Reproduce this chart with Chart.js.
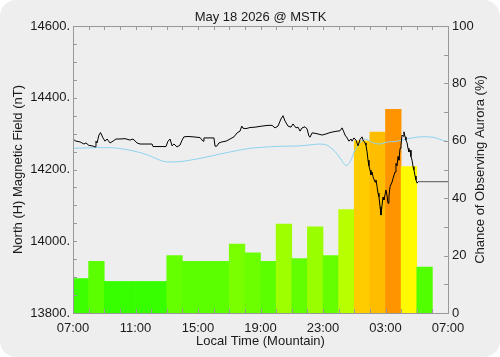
<!DOCTYPE html>
<html>
<head>
<meta charset="utf-8">
<script src="https://cdn.jsdelivr.net/npm/chart.js@4.4.1/dist/chart.umd.min.js"></script>
<style>
  html, body { margin: 0; padding: 0; background: #ffffff; }
</style>
</head>
<body>
<canvas id="chart" width="500" height="357"></canvas>
<script>
// hourly aurora chance; bar i covers the hour starting i hours after 07:00
const barHours = [0.5,1.5,2.5,3.5,4.5,5.5,6.5,7.5,8.5,9.5,10.5,11.5,
                  12.5,13.5,14.5,15.5,16.5,17.5,18.5,19.5,20.5,21.5,22.5];
const auroraPct = [12, 18, 11, 11, 11, 11, 20, 18, 18, 18, 24, 21,
                   18, 31, 19, 30, 20, 36, 60, 63, 71, 51, 16];

// bottom axis labels (every 4 h from 07:00)
const timeTicks = ['07:00', '11:00', '15:00', '19:00', '23:00', '03:00', '07:00'];

// measured H component: hours since 07:00, nT
const magHours = [0.02,0.19,0.45,0.70,0.83,1.02,1.22,1.41,1.47,1.54,1.66,1.76,1.92,2.05,2.18,2.37,2.56,2.75,3.01,3.33,
  3.65,3.84,4.10,4.29,4.61,5.06,5.12,5.57,5.95,6.08,6.21,6.34,6.46,6.66,6.85,6.98,7.10,7.36,7.68,8.13,
  8.32,8.38,8.77,9.02,9.09,9.20,9.34,9.54,9.79,10.05,10.30,10.50,10.69,10.80,10.88,11.07,11.33,11.65,12.10,12.48,
  12.74,12.93,13.12,13.31,13.44,13.57,13.76,13.95,14.08,14.27,14.40,14.53,14.66,14.85,14.98,15.10,15.17,15.30,15.49,15.68,
  15.94,16.19,16.45,16.77,17.09,17.22,17.31,17.41,17.54,17.66,17.79,17.86,17.98,18.11,18.24,18.30,18.37,18.50,18.56,18.69,
  18.75,18.82,18.88,18.94,19.01,19.07,19.14,19.20,19.33,19.39,19.46,19.52,19.58,19.65,19.71,19.78,19.84,19.90,20.03,20.10,
  20.16,20.22,20.29,20.42,20.48,20.61,20.67,20.74,20.80,20.86,20.93,20.99,21.06,21.12,21.18,21.25,21.31,21.38,21.44,21.50,
  21.57,21.63,21.70,21.76,21.82,21.89,21.95,22.02,22.08];
const magNT = [14284,14279,14277,14271,14274,14267,14266,14263,14279,14274,14296,14303,14288,14279,14285,14274,14279,14285,14285,14286,
  14282,14285,14274,14271,14271,14271,14264,14264,14264,14279,14285,14266,14271,14263,14268,14282,14291,14292,14291,14289,
  14279,14288,14288,14288,14265,14265,14274,14277,14279,14285,14291,14302,14307,14321,14315,14314,14317,14318,14321,14323,
  14323,14316,14321,14341,14350,14335,14321,14318,14327,14316,14318,14307,14316,14319,14313,14293,14290,14302,14301,14299,
  14296,14299,14303,14306,14308,14316,14307,14296,14288,14279,14285,14279,14288,14282,14266,14274,14284,14291,14282,14274,
  14268,14249,14226,14210,14198,14185,14193,14180,14165,14171,14152,14134,14124,14096,14073,14101,14123,14115,14143,14126,
  14106,14126,14152,14165,14175,14193,14217,14210,14236,14226,14259,14268,14296,14293,14305,14291,14282,14274,14259,14249,
  14254,14236,14226,14208,14199,14182,14171,14162,14166];

// last value held to the end of the day
const tailHours = [22.08, 24];
const tailNT = [14166, 14166];

// quiet-day baseline
const baseHours = [0,1.73,2.69,3.84,4.80,5.76,6.34,6.85,7.49,8.13,9.73,11.33,12.93,14.53,15.81,16.26,16.51,16.77,17.09,17.47,
  17.73,18.05,18.37,18.56,18.75,19.01,19.33,19.65,20.16,20.61,21.06,21.57,22.21,22.72,23.17,23.62,24];
const baseNT = [14259,14261,14260,14252,14240,14223,14221,14222,14226,14231,14246,14259,14264,14266,14271,14268,14260,14250,14232,14211,
  14221,14254,14274,14282,14285,14278,14273,14271,14277,14278,14282,14287,14291,14291,14289,14282,14278];

function pts(xs, ys) {
  return xs.map((h, i) => ({ x: h, y: ys[i] }));
}

// green -> yellow -> orange with rising chance
function pctColor(p) {
  return 'hsl(' + (120 - 1.2 * p) + ', 100%, 50%)';
}

const FONT = "'Liberation Sans', Arial, sans-serif";
const INK = '#1a1a1a';

const decor = {
  id: 'decor',
  beforeDraw(chart) {
    const c = chart.ctx;
    c.save();
    c.fillStyle = '#eeeeee';
    c.beginPath();
    c.roundRect(0, 0, chart.width, chart.height, 16);
    c.fill();
    c.restore();
  },
  afterDatasetsDraw(chart) {
    const c = chart.ctx, a = chart.chartArea;
    const x = chart.scales.x, y = chart.scales.y, y1 = chart.scales.y1;
    c.save();
    c.strokeStyle = '#999999';
    c.lineWidth = 1;
    c.strokeRect(a.left + 0.5, a.top + 0.5, a.right - a.left, a.bottom - a.top);
    c.beginPath();
    for (let v = 13800; v <= 14600; v += 50) {
      const py = Math.round(y.getPixelForValue(v)) + 0.5;
      c.moveTo(a.left, py); c.lineTo(a.left + 4, py);
    }
    for (let p = 0; p <= 100; p += 10) {
      const py = Math.round(y1.getPixelForValue(p)) + 0.5;
      c.moveTo(a.right, py); c.lineTo(a.right - 4, py);
    }
    for (let h = 0; h <= 24; h++) {
      const px = Math.round(x.getPixelForValue(h)) + 0.5;
      c.moveTo(px, a.bottom); c.lineTo(px, a.bottom - 4);
      c.moveTo(px, a.top); c.lineTo(px, a.top + 4);
    }
    c.stroke();

    c.fillStyle = INK;
    c.font = '13px ' + FONT;
    c.textAlign = 'center';
    c.textBaseline = 'middle';
    const cx = (a.left + a.right) / 2, cy = (a.top + a.bottom) / 2;
    c.fillText('May 18 2026 @ MSTK', cx, 17);
    c.fillText('Local Time (Mountain)', cx, 341);
    c.translate(18, cy);
    c.rotate(-Math.PI / 2);
    c.fillText('North (H) Magnetic Field (nT)', 0, 0);
    c.rotate(Math.PI / 2);
    c.translate(480 - 18, 0);
    c.rotate(-Math.PI / 2);
    c.fillText('Chance of Observing Aurora (%)', 0, 0);
    c.restore();
  }
};

new Chart(document.getElementById('chart'), {
  type: 'bar',
  data: {
    datasets: [
      {
        type: 'line',
        data: pts(magHours, magNT),
        yAxisID: 'y',
        borderColor: '#000000', borderWidth: 1,
        pointRadius: 0, tension: 0, order: 0
      },
      {
        type: 'line',
        data: pts(tailHours, tailNT),
        yAxisID: 'y',
        borderColor: '#555555', borderWidth: 1,
        pointRadius: 0, order: 0
      },
      {
        type: 'line',
        data: pts(baseHours, baseNT),
        yAxisID: 'y',
        borderColor: '#8fd3ee', borderWidth: 1,
        pointRadius: 0, tension: 0.3, order: 1
      },
      {
        type: 'bar',
        data: pts(barHours, auroraPct),
        yAxisID: 'y1',
        backgroundColor: auroraPct.map(pctColor),
        borderWidth: 0,
        barPercentage: 1, categoryPercentage: 1,
        order: 2
      }
    ]
  },
  options: {
    responsive: false,
    animation: false,
    layout: { padding: { top: 26, left: 0, right: 0, bottom: 0 } },
    plugins: { legend: { display: false }, tooltip: { enabled: false }, title: { display: false } },
    scales: {
      x: {
        type: 'linear', position: 'bottom', min: 0, max: 24, offset: false,
        grid: { display: false, drawTicks: false }, border: { display: false },
        ticks: {
          stepSize: 4, padding: 8, color: INK, maxRotation: 0,
          font: { family: FONT, size: 13 },
          callback: (v, i) => timeTicks[i]
        },
        afterFit: s => { s.height = 44; }
      },
      y: {
        position: 'left', min: 13800, max: 14600,
        grid: { display: false, drawTicks: false }, border: { display: false },
        ticks: {
          stepSize: 200, padding: 3, color: INK,
          font: { family: FONT, size: 13 },
          callback: v => v + '.'
        },
        afterFit: s => { s.width = 73; }
      },
      y1: {
        position: 'right', min: 0, max: 100,
        grid: { display: false, drawTicks: false }, border: { display: false },
        ticks: {
          stepSize: 20, padding: 4, color: INK,
          font: { family: FONT, size: 13 }
        },
        afterFit: s => { s.width = 52; }
      }
    }
  },
  plugins: [decor]
});
</script>
</body>
</html>
